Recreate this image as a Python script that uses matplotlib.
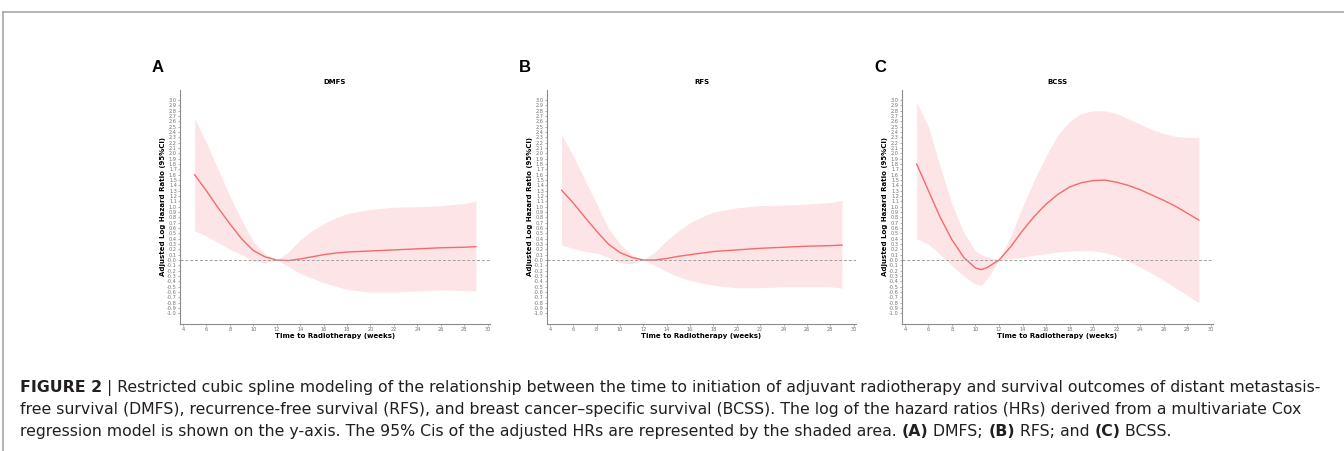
import numpy as np
import matplotlib
matplotlib.use("Agg")
import matplotlib.pyplot as plt
from matplotlib.lines import Line2D

# ---- data (weeks vs adjusted log HR) ----
weeks_a = [5, 6, 7, 8, 9, 10, 11, 12, 13, 14, 15, 16, 17, 18, 20, 22, 24, 26, 28, 29]
dmfs_fit = [1.60, 1.30, 0.98, 0.68, 0.40, 0.18, 0.06, 0.00, -0.01, 0.02, 0.06, 0.10,
            0.13, 0.15, 0.17, 0.19, 0.21, 0.23, 0.24, 0.25]
dmfs_hi = [2.65, 2.20, 1.70, 1.20, 0.75, 0.35, 0.12, 0.00, 0.15, 0.38, 0.55, 0.68,
           0.79, 0.87, 0.95, 0.99, 1.00, 1.02, 1.06, 1.10]
dmfs_lo = [0.55, 0.45, 0.33, 0.20, 0.10, -0.02, -0.05, 0.00, -0.12, -0.25, -0.34, -0.42,
           -0.49, -0.55, -0.60, -0.60, -0.58, -0.56, -0.57, -0.58]

weeks_b = [5, 6, 7, 8, 9, 10, 11, 12, 13, 14, 15, 16, 17, 18, 20, 22, 24, 26, 28, 29]
rfs_fit = [1.31, 1.07, 0.80, 0.54, 0.30, 0.14, 0.05, 0.00, 0.00, 0.03, 0.07, 0.10,
           0.13, 0.16, 0.19, 0.22, 0.24, 0.26, 0.27, 0.28]
rfs_hi = [2.35, 1.95, 1.50, 1.05, 0.60, 0.30, 0.10, 0.00, 0.15, 0.37, 0.55, 0.70,
          0.81, 0.90, 0.98, 1.02, 1.03, 1.05, 1.08, 1.12]
rfs_lo = [0.28, 0.22, 0.16, 0.13, 0.05, -0.05, -0.07, 0.00, -0.10, -0.22, -0.31, -0.38,
          -0.43, -0.47, -0.52, -0.52, -0.50, -0.50, -0.50, -0.53]

weeks_c = [5, 6, 7, 8, 9, 10, 10.5, 11, 12, 13, 14, 15, 16, 17, 18, 19, 20, 21, 22,
           23, 24, 25, 26, 27, 28, 29]
bcss_fit = [1.80, 1.30, 0.80, 0.38, 0.05, -0.15, -0.18, -0.14, 0.00, 0.25, 0.55, 0.82,
            1.05, 1.23, 1.37, 1.45, 1.49, 1.50, 1.46, 1.40, 1.32, 1.22, 1.12, 1.01,
            0.88, 0.75]
bcss_hi = [2.95, 2.50, 1.75, 1.05, 0.52, 0.17, 0.10, 0.06, 0.00, 0.45, 1.00, 1.50,
           1.95, 2.35, 2.60, 2.75, 2.80, 2.80, 2.75, 2.65, 2.55, 2.45, 2.37, 2.32,
           2.30, 2.30]
bcss_lo = [0.40, 0.30, 0.10, -0.10, -0.30, -0.45, -0.47, -0.35, 0.00, 0.03, 0.05, 0.09,
           0.12, 0.15, 0.17, 0.18, 0.17, 0.14, 0.08, -0.02, -0.13, -0.25, -0.38, -0.52,
           -0.66, -0.80]

panels = [
    ("A", "DMFS", weeks_a, dmfs_fit, dmfs_lo, dmfs_hi),
    ("B", "RFS", weeks_b, rfs_fit, rfs_lo, rfs_hi),
    ("C", "BCSS", weeks_c, bcss_fit, bcss_lo, bcss_hi),
]

W, H = 1344, 451
fig = plt.figure(figsize=(W / 100, H / 100), dpi=100)

# pixel boxes (left, top, right, bottom) of each axes
boxes = [(180, 90, 490, 324), (547, 90, 856, 324), (902, 90, 1213, 324)]

LINE_C = "#f56a6c"
BAND_C = "#fde4e6"
GREY = "#8c8c8c"

for (letter, title, x, fit, lo, hi), (l, t, r, b) in zip(panels, boxes):
    ax = fig.add_axes([l / W, (H - b) / H, (r - l) / W, (b - t) / H])
    ax.fill_between(x, lo, hi, color=BAND_C, lw=0)
    ax.plot(x, fit, color=LINE_C, lw=1.0)
    ax.axhline(0, color="#a0a0a0", lw=0.7, ls=(0, (3, 2)))
    ax.set_xlim(3.75, 30.2)
    ax.set_ylim(-1.2, 3.19)
    ax.set_xticks(np.arange(4, 31, 2))
    yt = np.round(np.arange(-1.0, 3.01, 0.1), 1)
    ax.set_yticks(yt)
    ax.set_yticklabels([f"{v:.1f}" for v in yt])
    ax.tick_params(labelsize=3.6, colors="#707070", length=1.2, width=0.4, pad=1)
    for s in ("top", "right"):
        ax.spines[s].set_visible(False)
    for s in ("left", "bottom"):
        ax.spines[s].set_color(GREY)
        ax.spines[s].set_linewidth(0.8)
    ax.set_title(title, fontsize=5, fontweight="bold", pad=4)
    ax.set_xlabel("Time to Radiotherapy (weeks)", fontsize=5, fontweight="bold", labelpad=0.5)
    ax.set_ylabel("Adjusted Log Hazard Ratio (95%CI)", fontsize=5, fontweight="bold", labelpad=1)
    fig.text((l - 28) / W, 1 - 68 / H, letter, fontsize=12, fontweight="bold",
             ha="left", va="center", family="Liberation Sans")

# outer frame lines
fig.add_artist(Line2D([3 / W, 1], [1 - 12 / H, 1 - 12 / H], color="#a8a8a8", lw=1.2))
fig.add_artist(Line2D([3 / W, 3 / W], [0, 1 - 12 / H], color="#a8a8a8", lw=1.2))

# caption, built from bold and regular pieces
cap_font = ["DejaVu Sans"]
cap_lines = [
    [("FIGURE 2", True), (" | Restricted cubic spline modeling of the relationship between the time "
      "to initiation of adjuvant radiotherapy and survival outcomes of distant metastasis-", False)],
    [("free survival (DMFS), recurrence-free survival (RFS), and breast cancer\u2013specific survival "
      "(BCSS). The log of the hazard ratios (HRs) derived from a multivariate Cox", False)],
    [("regression model is shown on the y-axis. The 95% Cis of the adjusted HRs are represented by "
      "the shaded area. ", False), ("(A)", True), (" DMFS; ", False), ("(B)", True),
     (" RFS; and ", False), ("(C)", True), (" BCSS.", False)],
]
renderer = fig.canvas.get_renderer()


def line_width(pieces, size):
    total = 0
    for txt, bold in pieces:
        t = fig.text(0, 0, txt, fontsize=size, family=cap_font,
                     fontweight="bold" if bold else "normal")
        total += t.get_window_extent(renderer).width
        t.remove()
    return total


# fit first caption line to the width it spans in the reference
cap_size = 10.0 * 1302 / line_width(cap_lines[0], 10.0)

for i, pieces in enumerate(cap_lines):
    xpx = 20
    ypx = 392 + i * 22
    for txt, bold in pieces:
        t = fig.text(xpx / W, 1 - ypx / H, txt, fontsize=cap_size, family=cap_font,
                     fontweight="bold" if bold else "normal", color="#231f20",
                     ha="left", va="baseline")
        xpx += t.get_window_extent(renderer).width

fig.savefig("out.png", dpi=100)
